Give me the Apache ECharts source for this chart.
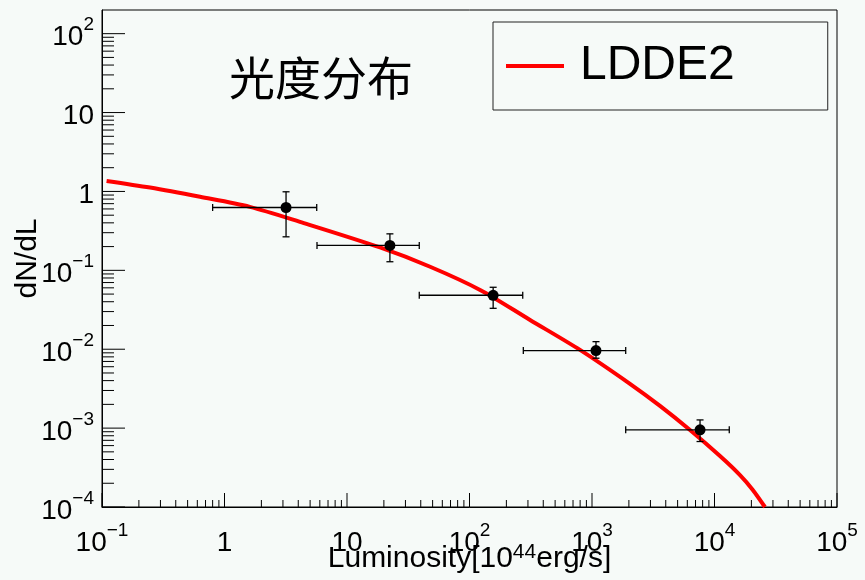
<!DOCTYPE html>
<html>
<head>
<meta charset="utf-8">
<script src="https://cdn.jsdelivr.net/npm/echarts@6/dist/echarts.min.js"></script>
<style>
html,body{margin:0;padding:0;background:#f6faf8;}
#chart{width:865px;height:580px;}
</style>
</head>
<body>
<div id="chart"></div>
<script>
// ---- data ----
var curveX = [0.109, 0.247, 0.631, 1.61, 4.13, 18.6, 47.7, 122, 312, 798, 2042, 3590, 6310, 11090, 16150, 20400, 25800];
var curveY = [1.36, 1.12, 0.855, 0.638, 0.412, 0.195, 0.111, 0.0564, 0.0235, 0.0098, 0.00364, 0.00191, 0.000946, 0.000443, 0.000254, 0.000167, 0.000100];
var ptX  = [3.18, 22.4, 156, 1078, 7620];
var ptY  = [0.626, 0.207, 0.0483, 0.0096, 0.00095];
var xLo  = [0.80, 5.69, 38.9, 275, 1884];
var xHi  = [5.66, 38.9, 272, 1884, 13200];
var yLo  = [0.266, 0.1285, 0.033, 0.00769, 0.000676];
var yHi  = [0.99, 0.290, 0.061, 0.01247, 0.00127];
var xDecades = [-1, 0, 1, 2, 3, 4, 5];
var yDecades = [-4, -3, -2, -1, 0, 1, 2];
var xMin = 0.1, xMax = 1e5, yMin = 1e-4, yMax = Math.pow(10, 2.3);

// tick lists (major + minor) built from decades
function tickList(decs, maxV) {
  var out = [];
  for (var i = 0; i < decs.length; i++) {
    var base = Math.pow(10, decs[i]);
    out.push([base, 1]);
    for (var k = 2; k <= 9; k++) { if (base * k <= maxV) out.push([base * k, 0]); }
  }
  return out;
}
var xTicks = tickList(xDecades, xMax);
var yTicks = tickList(yDecades, yMax);

var FONT = '"Liberation Sans", Arial, sans-serif';
function fmt(v) {
  var e = Math.log10(v), r = Math.round(e);
  if (Math.abs(e - r) > 1e-6) return '';
  if (r === 0) return '{b|1}';
  if (r === 1) return '{b|10}';
  return '{b|10}{s|' + (r < 0 ? '\u2212' + (-r) : r) + '}';
}
var rich = {
  b: {fontSize: 28, fontFamily: FONT, color: '#000', lineHeight: 36, verticalAlign: 'bottom'},
  s: {fontSize: 19, fontFamily: FONT, color: '#000', lineHeight: 36, verticalAlign: 'top'}
};

var chart = echarts.init(document.getElementById('chart'));
var option = {
  backgroundColor: '#f6faf8',
  animation: false,
  title: {
    text: '光度分布', left: 224, top: 50,
    textStyle: {fontSize: 46, fontWeight: 'normal', color: '#000', fontFamily: '"Noto Sans CJK SC", sans-serif'}
  },
  legend: {
    data: [{name: 'LDDE2', icon: 'rect'}], left: 493, top: 22,
    backgroundColor: '#f6faf8',
    borderColor: '#222', borderWidth: 1, borderRadius: 0,
    padding: [20, 93, 20, 13],
    itemWidth: 58, itemHeight: 4,
    itemStyle: {color: '#ff0000'},
    textStyle: {fontSize: 48, fontFamily: FONT, color: '#000', padding: [0, 0, 0, 11]}
  },
  grid: {left: 102, top: 10, right: 28, bottom: 73, show: true, borderColor: '#000', borderWidth: 1,
         backgroundColor: 'transparent', outerBoundsMode: 'none', containLabel: false},
  xAxis: {
    type: 'log', logBase: 10, min: xMin, max: xMax,
    axisLine: {show: true, lineStyle: {color: '#000', width: 1}},
    axisTick: {show: false}, splitLine: {show: false},
    axisLabel: {formatter: fmt, rich: rich, margin: 14, showMaxLabel: true},
    name: '{n|Luminosity[10}{s|44}{n|erg/s]}', nameLocation: 'middle', nameGap: 35, nameMoveOverlap: false,
    nameTextStyle: {rich: {
      n: {fontSize: 30, fontFamily: FONT, color: '#000', lineHeight: 32, verticalAlign: 'bottom'},
      s: {fontSize: 21, fontFamily: FONT, color: '#000', lineHeight: 32, verticalAlign: 'top'}
    }}
  },
  yAxis: {
    type: 'log', logBase: 10, min: yMin, max: yMax,
    axisLine: {show: true, lineStyle: {color: '#000', width: 1}},
    axisTick: {show: false}, splitLine: {show: false},
    axisLabel: {formatter: fmt, rich: rich, margin: 8, showMaxLabel: false},
    name: 'dN/dL', nameLocation: 'middle', nameGap: 59, nameRotate: 90, nameMoveOverlap: false,
    nameTextStyle: {fontSize: 30, fontFamily: FONT, color: '#000'}
  },
  series: [
    {
      name: 'xticks', type: 'custom', silent: true, clip: false, z: 5,
      data: xTicks,
      renderItem: function (params, api) {
        var p = api.coord([api.value(0), yMin]);
        var len = api.value(1) ? 14 : 7;
        return {type: 'line', shape: {x1: p[0], y1: p[1], x2: p[0], y2: p[1] - len},
                style: {stroke: '#000', lineWidth: 1}};
      }
    },
    {
      name: 'yticks', type: 'custom', silent: true, clip: false, z: 5,
      data: yTicks,
      renderItem: function (params, api) {
        var p = api.coord([xMin, api.value(0)]);
        var len = api.value(1) ? 23 : 12;
        return {type: 'line', shape: {x1: p[0], y1: p[1], x2: p[0] + len, y2: p[1]},
                style: {stroke: '#000', lineWidth: 1}};
      }
    },
    {
      name: 'LDDE2', type: 'line', showSymbol: false, symbol: 'none', smooth: 0.3,
      data: curveX.map(function (x, i) { return [x, curveY[i]]; }),
      lineStyle: {color: '#ff0000', width: 4},
      itemStyle: {color: '#ff0000'}, z: 3
    },
    {
      name: 'errors', type: 'custom', z: 4, silent: true,
      data: ptX.map(function (x, i) { return [x, ptY[i], xLo[i], xHi[i], yLo[i], yHi[i]]; }),
      renderItem: function (params, api) {
        var c = api.coord([api.value(0), api.value(1)]);
        var l = api.coord([api.value(2), api.value(1)]);
        var r = api.coord([api.value(3), api.value(1)]);
        var lo = api.coord([api.value(0), api.value(4)]);
        var hi = api.coord([api.value(0), api.value(5)]);
        var st = {stroke: '#000', lineWidth: 1.3};
        var cap = 3.5;
        return {type: 'group', children: [
          {type: 'line', shape: {x1: l[0], y1: l[1], x2: r[0], y2: r[1]}, style: st},
          {type: 'line', shape: {x1: l[0], y1: l[1] - cap, x2: l[0], y2: l[1] + cap}, style: st},
          {type: 'line', shape: {x1: r[0], y1: r[1] - cap, x2: r[0], y2: r[1] + cap}, style: st},
          {type: 'line', shape: {x1: c[0], y1: lo[1], x2: c[0], y2: hi[1]}, style: st},
          {type: 'line', shape: {x1: c[0] - cap, y1: lo[1], x2: c[0] + cap, y2: lo[1]}, style: st},
          {type: 'line', shape: {x1: c[0] - cap, y1: hi[1], x2: c[0] + cap, y2: hi[1]}, style: st}
        ]};
      }
    },
    {
      name: 'points', type: 'scatter', symbol: 'circle', symbolSize: 11, z: 6,
      data: ptX.map(function (x, i) { return [x, ptY[i]]; }),
      itemStyle: {color: '#000', opacity: 1}
    }
  ]
};
chart.setOption(option);
</script>
</body>
</html>
